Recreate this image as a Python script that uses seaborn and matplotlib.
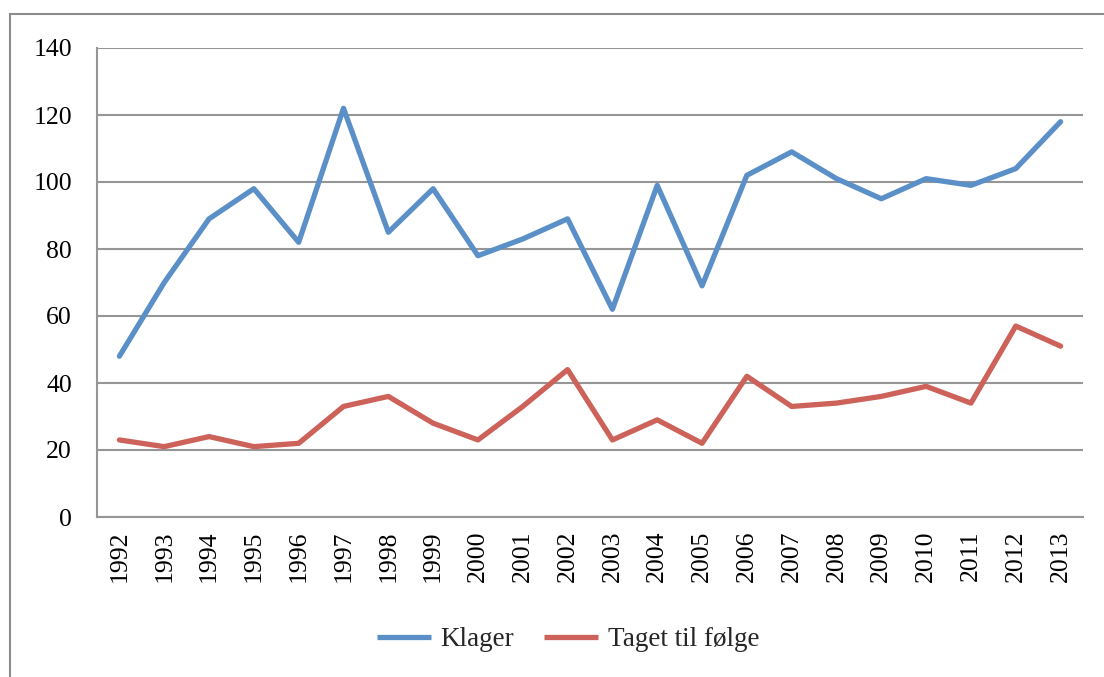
import matplotlib
matplotlib.use("Agg")
import matplotlib.pyplot as plt
from matplotlib.patches import Rectangle
import seaborn as sns
import pandas as pd
import numpy as np

years = [str(y) for y in range(1992, 2014)]
klager = [48, 70, 89, 98, 82, 122, 85, 98, 78, 83, 89, 62, 99, 69, 102, 109, 101, 95, 101, 99, 104, 118]
taget = [23, 21, 24, 21, 22, 33, 36, 28, 23, 33, 44, 23, 29, 22, 42, 33, 34, 36, 39, 34, 57, 51]
series_names = ["Klager", "Taget til følge"]
y_ticks = [0, 20, 40, 60, 80, 100, 120, 140]

sns.set_theme(style="white")
plt.rcParams["font.family"] = ["Liberation Serif", "DejaVu Serif"]

df = pd.DataFrame({
    "year": years * 2,
    "value": klager + taget,
    "series": [series_names[0]] * len(years) + [series_names[1]] * len(years),
})

fig = plt.figure(figsize=(11.04, 6.77), dpi=100)
ax = fig.add_axes([97 / 1104, 1 - 517 / 677, (1083 - 97) / 1104, (517 - 48) / 677])

palette = {"Klager": "#5b8fc8", "Taget til følge": "#cc625a"}
sns.lineplot(data=df, x="year", y="value", hue="series", palette=palette,
             linewidth=3.8, ax=ax, sort=False, legend=True)
for ln in ax.get_lines():
    ln.set_solid_capstyle("round")
    ln.set_solid_joinstyle("round")

n = len(years)
ax.set_xlim(-0.5, n - 0.5)
ax.set_ylim(0, 140)
ax.set_yticks(y_ticks)
ax.set_xticks(range(n))
ax.set_xticklabels(years, rotation=90)
ax.set_xticks(np.arange(-0.5, n, 1.0), minor=True)
ax.tick_params(axis="x", which="major", length=0, pad=10, labelsize=18.5, colors="black")
ax.tick_params(axis="x", which="minor", length=7, width=1.5, color="#969696", direction="out")
ax.tick_params(axis="y", which="major", length=7, width=1.5, color="#969696", direction="out",
               labelsize=18.5, pad=11, labelcolor="black")
ax.yaxis.grid(True, color="#969696", linewidth=1.5)
ax.xaxis.grid(False)
ax.set_axisbelow(True)
for s in ["top", "right"]:
    ax.spines[s].set_visible(False)
for s in ["left", "bottom"]:
    ax.spines[s].set_color("#969696")
    ax.spines[s].set_linewidth(1.5)
ax.set_xlabel("")
ax.set_ylabel("")

leg = ax.legend(loc="center", bbox_to_anchor=(568 / 1104, 1 - 640 / 677),
                bbox_transform=fig.transFigure, ncol=2, frameon=False,
                fontsize=19.5, handlelength=2.0, handletextpad=0.35, columnspacing=1.1)
for h in leg.get_lines():
    h.set_linewidth(3.8)
    h.set_solid_capstyle("butt")

fig.add_artist(Rectangle((10 / 1104, -0.05), 1.2, 1 - 14 / 677 + 0.05,
                         transform=fig.transFigure, fill=False,
                         edgecolor="#8c8c8c", linewidth=1.5))

fig.savefig("out.png", dpi=100, facecolor="white")
